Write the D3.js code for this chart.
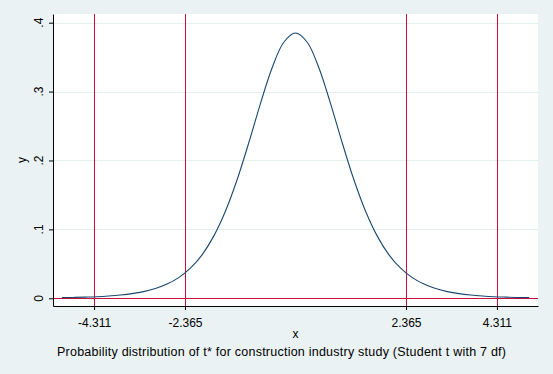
<!DOCTYPE html>
<html>
<head>
<meta charset="utf-8">
<script src="https://cdn.jsdelivr.net/npm/d3@7"></script>
<style>
  body { margin: 0; background: #eaf2f3; }
  text { font-family: "Liberation Sans", Arial, sans-serif; fill: #000; }
</style>
</head>
<body>
<div id="chart"></div>
<script>
// Curve points (density of t with 7 df)
const curveX = [-5, -4.75, -4.5, -4.25, -4, -3.75, -3.5, -3.25, -3, -2.75, -2.5, -2.25, -2, -1.75, -1.5, -1.25, -1, -0.75, -0.5, -0.25,
  0, 0.25, 0.5, 0.75, 1, 1.25, 1.5, 1.75, 2, 2.25, 2.5, 2.75, 3, 3.25, 3.5, 3.75, 4, 4.25, 4.5, 4.75, 5];
const curveY = [0.0009, 0.0012, 0.0017, 0.0023, 0.0033, 0.0047, 0.0067, 0.0097, 0.0141, 0.0206, 0.0300, 0.0437, 0.0631, 0.0902, 0.1263, 0.1720, 0.2257, 0.2826, 0.3346, 0.3716,
  0.3850, 0.3716, 0.3346, 0.2826, 0.2257, 0.1720, 0.1263, 0.0902, 0.0631, 0.0437, 0.0300, 0.0206, 0.0141, 0.0097, 0.0067, 0.0047, 0.0033, 0.0023, 0.0017, 0.0012, 0.0009];

// Critical values marked with vertical lines, and the x tick labels
const criticalValues = [-4.311, -2.365, 2.365, 4.311];
const xTickLabels = ["-4.311", "-2.365", "2.365", "4.311"];

// y axis ticks
const yTickValues = [0, 0.1, 0.2, 0.3, 0.4];
const yTickLabels = ["0", ".1", ".2", ".3", ".4"];

const noteText = "Probability distribution of t* for construction industry study (Student t with 7 df)";

const width = 553, height = 374;
const plot = { left: 53, right: 538, top: 14, bottom: 306 };

const svg = d3.select("#chart")
  .append("svg")
  .attr("width", width)
  .attr("height", height);

svg.append("rect")
  .attr("width", width).attr("height", height)
  .attr("fill", "#eaf2f3");

svg.append("rect")
  .attr("x", plot.left).attr("y", plot.top)
  .attr("width", plot.right - plot.left).attr("height", plot.bottom - plot.top)
  .attr("fill", "#fff");

const xScale = d3.scaleLinear()
  .domain([-5.19, 5.19])
  .range([plot.left, plot.right]);

const yScale = d3.scaleLinear()
  .domain([-0.0112, 0.4126])
  .range([plot.bottom, plot.top]);

// horizontal grid lines
svg.append("g")
  .selectAll("line")
  .data(yTickValues.slice(1))
  .enter()
  .append("line")
  .attr("x1", plot.left).attr("x2", plot.right)
  .attr("y1", d => Math.round(yScale(d)) + 0.5)
  .attr("y2", d => Math.round(yScale(d)) + 0.5)
  .attr("stroke", "#e6eeef")
  .attr("stroke-width", 1);

// reference lines
const lineColor = "#c8103a";
svg.append("g")
  .selectAll("line")
  .data(criticalValues)
  .enter()
  .append("line")
  .attr("x1", d => Math.round(xScale(d)) + 0.5)
  .attr("x2", d => Math.round(xScale(d)) + 0.5)
  .attr("y1", plot.top).attr("y2", plot.bottom)
  .attr("stroke", lineColor)
  .attr("stroke-width", 1);

svg.append("line")
  .attr("x1", plot.left).attr("x2", plot.right)
  .attr("y1", Math.round(yScale(0)) + 0.5)
  .attr("y2", Math.round(yScale(0)) + 0.5)
  .attr("stroke", lineColor)
  .attr("stroke-width", 1);

// the density curve
const line = d3.line()
  .x((d, i) => xScale(curveX[i]))
  .y(d => yScale(d))
  .curve(d3.curveCatmullRom);

svg.append("path")
  .datum(curveY)
  .attr("d", line)
  .attr("fill", "none")
  .attr("stroke", "#1a476f")
  .attr("stroke-width", 1.1);

// axes
const xAxis = svg.append("g")
  .attr("transform", "translate(0," + plot.bottom + ")")
  .call(d3.axisBottom(xScale)
    .tickValues(criticalValues)
    .tickFormat((d, i) => xTickLabels[i])
    .tickSize(4)
    .tickSizeOuter(0)
    .tickPadding(8));
xAxis.selectAll("text").style("font-size", "12px");

const yAxis = svg.append("g")
  .attr("transform", "translate(" + plot.left + ",0)")
  .call(d3.axisLeft(yScale)
    .tickValues(yTickValues)
    .tickFormat("")
    .tickSize(4)
    .tickSizeOuter(0));
svg.selectAll(".domain, .tick line").attr("stroke", "#000");

// rotated y tick labels
svg.append("g")
  .selectAll("text")
  .data(yTickValues)
  .enter()
  .append("text")
  .attr("transform", d => "translate(42.5," + yScale(d) + ") rotate(-90)")
  .attr("text-anchor", "middle")
  .style("font-size", "12px")
  .text((d, i) => yTickLabels[i]);

// axis titles
svg.append("text")
  .attr("transform", "translate(26," + ((plot.top + plot.bottom) / 2) + ") rotate(-90)")
  .attr("text-anchor", "middle")
  .style("font-size", "12px")
  .text("y");

svg.append("text")
  .attr("x", 295.5).attr("y", 338)
  .attr("text-anchor", "middle")
  .style("font-size", "12px")
  .text("x");

// the note under the chart is wider in the reference than Liberation Sans at 12px
svg.append("text")
  .attr("x", 57).attr("y", 356)
  .attr("textLength", 449)
  .attr("lengthAdjust", "spacing")
  .style("font-size", "12.5px")
  .text(noteText);
</script>
</body>
</html>
